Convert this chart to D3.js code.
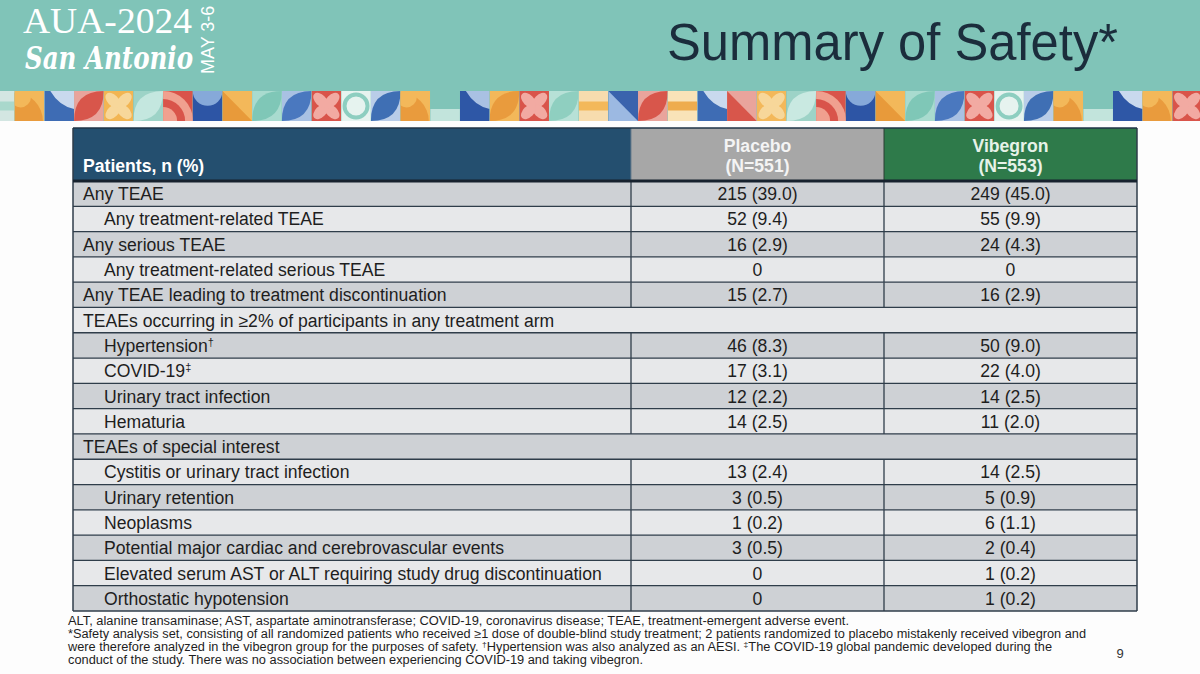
<!DOCTYPE html>
<html><head><meta charset="utf-8">
<script src="https://cdn.jsdelivr.net/npm/d3@7"></script>
<style>html,body{margin:0;padding:0;background:#fff;} svg{display:block;}</style>
</head><body><svg id="c" width="1200" height="674"></svg>
<script>
// ---------------- DATA ----------------
const categories = [
  "Any TEAE",
  "Any treatment-related TEAE",
  "Any serious TEAE",
  "Any treatment-related serious TEAE",
  "Any TEAE leading to treatment discontinuation",
  "TEAEs occurring in \u22652% of participants in any treatment arm",
  "Hypertension",
  "COVID-19",
  "Urinary tract infection",
  "Hematuria",
  "TEAEs of special interest",
  "Cystitis or urinary tract infection",
  "Urinary retention",
  "Neoplasms",
  "Potential major cardiac and cerebrovascular events",
  "Elevated serum AST or ALT requiring study drug discontinuation",
  "Orthostatic hypotension"
];
const labelMarks = ["", "", "", "", "", "", "\u2020", "\u2021", "", "", "", "", "", "", "", "", ""];
const indentLevels = [0, 1, 0, 1, 0, 0, 1, 1, 1, 1, 0, 1, 1, 1, 1, 1, 1];
const placeboValues = ["215 (39.0)", "52 (9.4)", "16 (2.9)", "0", "15 (2.7)", null, "46 (8.3)", "17 (3.1)", "12 (2.2)", "14 (2.5)", null, "13 (2.4)", "3 (0.5)", "1 (0.2)", "3 (0.5)", "0", "0"];
const vibegronValues = ["249 (45.0)", "55 (9.9)", "24 (4.3)", "0", "16 (2.9)", null, "50 (9.0)", "22 (4.0)", "14 (2.5)", "11 (2.0)", null, "14 (2.5)", "5 (0.9)", "6 (1.1)", "2 (0.4)", "1 (0.2)", "1 (0.2)"];
const columns = ["label", "placebo", "vibegron"];
const columnTitles = ["Patients, n (%)", "Placebo", "Vibegron"];
const columnCounts = ["", "(N=551)", "(N=553)"];
const title = "Summary of Safety*";
const footnotes = [
  [{t:"ALT, alanine transaminase; AST, aspartate aminotransferase; COVID-19, coronavirus disease; TEAE, treatment-emergent adverse event."}],
  [{t:"*Safety analysis set, consisting of all randomized patients who received \u22651 dose of double-blind study treatment; 2 patients randomized to placebo mistakenly received vibegron and"}],
  [{t:"were therefore analyzed in the vibegron group for the purposes of safety. "},{t:"\u2020",s:1},{t:"Hypertension was also analyzed as an AESI. "},{t:"\u2021",s:1},{t:"The COVID-19 global pandemic developed during the"}],
  [{t:"conduct of the study. There was no association between experiencing COVID-19 and taking vibegron."}]
];
const footnoteWidths = [781, 1018, 984, 575];
const pageNumber = "9";
// decorative tile strip (shape, background, foreground)
const tiles = [
  ["stripes","#d3e6e2","#a9d8cc"],["quarter","#f3b85a","#e99b3d"],["wave","#c9d9ee","#3e6cb4"],["leaf","#e9a49c","#d8564b"],
  ["petal","#f2b552","#f7d79a"],["leaf","#9dd3c7","#c4e7df"],["arcs","#d9544a","#f0a08f"],["semi","#86a9d9","#2d55a5"],
  ["tri","#f3b85a","#e89a3a"],["leaf","#a9dbcf","#7fc7b7"],["leaf","#a9c1e3","#4a78bf"],["petal","#d9544a","#f2aaa2"],
  ["ring","#e6f3ef","#8dcec0"],["leaf","#b9cde8","#3f6fb4"],["quarter","#f3b85a","#e99b3d"],["gap","#80c4b8","#c2e4dc"],
  ["wave","#a9c1e3","#2e57a6"],["leaf","#f3b85a","#e99b3d"],["petal","#d9544a","#f2aaa2"],["leaf","#b7e1d7","#8fcfc0"],
  ["stripes","#f7dcae","#f3b85a"],["tri","#3a63ad","#9cb9e2"],["leaf","#e9a49c","#d8564b"],["stripes","#f9e3b8","#eeac4e"],
  ["wave","#c9d9ee","#3e6cb4"],["tri","#e9a49c","#d8564b"],["petal","#f3b85a","#f7d79a"],["leaf","#9dd3c7","#c9e9e1"],
  ["arcs","#d9544a","#f0a08f"],["semi","#86a9d9","#2d55a5"],["tri","#f3b85a","#e89a3a"],["leaf","#a9dbcf","#7fc7b7"],
  ["leaf","#a9c1e3","#4a78bf"],["petal","#d9544a","#f2aaa2"],["ring","#e6f3ef","#8dcec0"],["leaf","#b9cde8","#3f6fb4"],
  ["quarter","#f3b85a","#e99b3d"],["gap","#80c4b8","#c2e4dc"],["wave","#c9d9ee","#2e57a6"],["quarter","#f3b85a","#e99b3d"],
  ["petal","#d9544a","#f2aaa2"]
];

// ---------------- DRAW ----------------
const W = 1200, H = 674;
const svg = d3.select("#c");
const defs = svg.append("defs");
const FONT = "'Liberation Sans', Arial, Helvetica, sans-serif";
const FS = 17.6;

svg.append("rect").attr("width", W).attr("height", H).attr("fill", "#fdfdfd");
svg.append("rect").attr("width", W).attr("height", 121).attr("fill", "#80c4b8");

// tile strip
const bandTop = 91, bandH = 30;
const tx = d3.scaleBand().domain(d3.range(tiles.length)).range([-15, W + 2]);
const tw = tx.bandwidth();
const band = svg.append("g");
tiles.forEach((t, i) => {
  const x = tx(i), y = bandTop, w = tw, h = bandH;
  const id = "tc" + i;
  defs.append("clipPath").attr("id", id).append("rect").attr("x", x).attr("y", y).attr("width", w).attr("height", h);
  const g = band.append("g").attr("clip-path", `url(#${id})`);
  const [shape, bg, fg] = t;
  if (shape === "gap") {
    g.append("rect").attr("x", x).attr("y", y).attr("width", w).attr("height", h).attr("fill", bg);
    g.append("rect").attr("x", x).attr("y", y + h * 0.6).attr("width", w).attr("height", h * 0.4).attr("fill", fg);
    return;
  }
  g.append("rect").attr("x", x).attr("y", y).attr("width", w).attr("height", h).attr("fill", bg);
  if (shape === "quarter") {
    g.append("circle").attr("cx", x).attr("cy", y + h).attr("r", w * 0.95).attr("fill", fg);
    g.append("circle").attr("cx", x + w * 0.2).attr("cy", y + h * 0.2).attr("r", w * 0.35).attr("fill", bg);
  } else if (shape === "leaf") {
    g.append("path").attr("d", `M${x},${y+h} Q${x},${y} ${x+w},${y} Q${x+w},${y+h} ${x},${y+h} Z`).attr("fill", fg);
  } else if (shape === "tri") {
    g.append("path").attr("d", `M${x},${y} L${x+w},${y+h} L${x},${y+h} Z`).attr("fill", fg);
  } else if (shape === "petal") {
    const cx = x + w / 2, cy = y + h / 2;
    [45, 135, 225, 315].forEach(a => {
      g.append("ellipse").attr("cx", cx).attr("cy", cy - 8).attr("rx", 5.5).attr("ry", 9)
        .attr("transform", `rotate(${a},${cx},${cy})`).attr("fill", fg);
    });
  } else if (shape === "ring") {
    g.append("circle").attr("cx", x + w / 2).attr("cy", y + h / 2).attr("r", 11.5).attr("fill", "none").attr("stroke", fg).attr("stroke-width", 4);
  } else if (shape === "semi") {
    g.append("rect").attr("x", x).attr("y", y).attr("width", w).attr("height", h).attr("fill", fg);
    g.append("circle").attr("cx", x + w / 2).attr("cy", y).attr("r", w * 0.5).attr("fill", bg);
  } else if (shape === "arcs") {
    [30, 22, 14].forEach((r, k) => g.append("circle").attr("cx", x).attr("cy", y + h).attr("r", r).attr("fill", k % 2 ? bg : fg));
  } else if (shape === "stripes") {
    g.append("rect").attr("x", x).attr("y", y + h * 0.35).attr("width", w).attr("height", h * 0.3).attr("fill", fg);
  } else if (shape === "wave") {
    g.append("path").attr("d", `M${x+w*0.2},${y} Q${x+w*0.5},${y+h*0.5} ${x+w},${y+h*0.6} L${x+w},${y+h} L${x},${y+h} L${x},${y} Z`).attr("fill", fg);
  }
});

// logo
const logo = svg.append("g").attr("fill", "#ffffff");
logo.append("text").attr("x", 23).attr("y", 33).attr("font-family", "'Liberation Serif', 'DejaVu Serif', serif")
  .attr("font-size", 36).attr("textLength", 169).attr("lengthAdjust", "spacingAndGlyphs").text("AUA-2024");
logo.append("text").attr("x", 25).attr("y", 69).attr("font-family", "'DejaVu Serif', serif")
  .attr("font-style", "italic").attr("font-weight", "bold").attr("font-size", 32)
  .attr("textLength", 168).attr("lengthAdjust", "spacingAndGlyphs").text("San Antonio");
logo.append("text").attr("x", 214).attr("y", 74).attr("transform", "rotate(-90,214,74)").attr("font-family", FONT)
  .attr("font-size", 18).text("MAY 3-6");

// title
svg.append("text").attr("x", 667).attr("y", 60).attr("font-family", FONT).attr("font-size", 51)
  .attr("fill", "#1b2d3c").attr("textLength", 451).attr("lengthAdjust", "spacingAndGlyphs").text(title);

// table
const headTop = 128, headBottom = 181, tableBottom = 611;
const colX = d3.scaleOrdinal().domain(columns).range([73, 631, 884]);
const colW = d3.scaleOrdinal().domain(columns).range([558, 253, 253]);
const tableLeft = colX("label"), tableRight = colX("vibegron") + colW("vibegron");
const y = d3.scaleBand().domain(categories).range([headBottom, tableBottom]);
const rh = y.bandwidth();

const headFill = d3.scaleOrdinal().domain(columns).range(["#244f6f", "#a7a7a7", "#2e7a4a"]);
const head = svg.append("g");
head.selectAll("rect").data(columns).join("rect")
  .attr("x", d => colX(d)).attr("y", headTop).attr("width", d => colW(d)).attr("height", headBottom - headTop)
  .attr("fill", d => headFill(d));
head.append("text").attr("x", tableLeft + 10).attr("y", 172).attr("font-family", FONT).attr("font-weight", "bold")
  .attr("font-size", FS).attr("fill", "#ffffff").text(columnTitles[0]);
columns.slice(1).forEach((c, i) => {
  const cx = colX(c) + colW(c) / 2;
  head.append("text").attr("x", cx).attr("y", 151.5).attr("text-anchor", "middle").attr("font-family", FONT)
    .attr("font-weight", "bold").attr("font-size", FS).attr("fill", i === 0 ? "#f4f4f4" : "#e6f2e8").text(columnTitles[i + 1]);
  head.append("text").attr("x", cx).attr("y", 171.5).attr("text-anchor", "middle").attr("font-family", FONT)
    .attr("font-weight", "bold").attr("font-size", FS).attr("fill", i === 0 ? "#f4f4f4" : "#e6f2e8").text(columnCounts[i + 1]);
});
head.append("line").attr("x1", 631).attr("x2", 631).attr("y1", headTop).attr("y2", headBottom).attr("stroke", "#6b7f8e").attr("stroke-width", 1);
head.append("line").attr("x1", 884).attr("x2", 884).attr("y1", headTop).attr("y2", headBottom).attr("stroke", "#2a3d33").attr("stroke-width", 1);

const rows = categories.map((c, i) => ({c, i, lvl: indentLevels[i], mark: labelMarks[i], p: placeboValues[i], v: vibegronValues[i]}));
const body = svg.append("g");
const rowG = body.selectAll("g.row").data(rows).join("g").attr("class", "row");
rowG.append("rect").attr("x", tableLeft).attr("y", d => y(d.c)).attr("width", tableRight - tableLeft).attr("height", rh)
  .attr("fill", d => d.i % 2 === 0 ? "#ced1d5" : "#e7e8ea");
const baseOff = rh / 2 + 6.5;
const lab = rowG.append("text").attr("x", d => tableLeft + 10 + d.lvl * 21).attr("y", d => y(d.c) + baseOff)
  .attr("font-family", FONT).attr("font-size", FS).attr("fill", "#1e1e1e");
lab.append("tspan").text(d => d.c);
lab.append("tspan").attr("font-size", 11).attr("dy", -6).text(d => d.mark);
rowG.filter(d => d.p !== null).append("text").attr("x", colX("placebo") + colW("placebo") / 2).attr("y", d => y(d.c) + baseOff)
  .attr("text-anchor", "middle").attr("font-family", FONT).attr("font-size", FS).attr("fill", "#1e1e1e").text(d => d.p);
rowG.filter(d => d.v !== null).append("text").attr("x", colX("vibegron") + colW("vibegron") / 2).attr("y", d => y(d.c) + baseOff)
  .attr("text-anchor", "middle").attr("font-family", FONT).attr("font-size", FS).attr("fill", "#1e1e1e").text(d => d.v);
// grid lines
rowG.append("line").attr("x1", tableLeft).attr("x2", tableRight).attr("y1", d => y(d.c)).attr("y2", d => y(d.c))
  .attr("stroke", "#2f3d4a").attr("stroke-width", 1.3);
["placebo", "vibegron"].forEach(c => {
  rowG.filter(d => d.p !== null).append("line").attr("x1", colX(c)).attr("x2", colX(c))
    .attr("y1", d => y(d.c)).attr("y2", d => y(d.c) + rh).attr("stroke", "#2f3d4a").attr("stroke-width", 1.3);
});
body.append("line").attr("x1", tableLeft).attr("x2", tableRight).attr("y1", tableBottom).attr("y2", tableBottom).attr("stroke", "#2f3d4a").attr("stroke-width", 1.5);
body.append("line").attr("x1", tableLeft).attr("x2", tableLeft).attr("y1", headTop).attr("y2", tableBottom).attr("stroke", "#2f3d4a").attr("stroke-width", 1.5);
body.append("line").attr("x1", tableRight).attr("x2", tableRight).attr("y1", headTop).attr("y2", tableBottom).attr("stroke", "#2f3d4a").attr("stroke-width", 1.5);
body.append("line").attr("x1", tableLeft).attr("x2", tableRight).attr("y1", headTop).attr("y2", headTop).attr("stroke", "#1f3346").attr("stroke-width", 1.5);
body.append("line").attr("x1", tableLeft).attr("x2", tableRight).attr("y1", headBottom).attr("y2", headBottom).attr("stroke", "#17222e").attr("stroke-width", 3);

// footnotes
const fy = d3.scaleBand().domain(d3.range(footnotes.length)).range([614.5, 666.5]);
footnotes.forEach((parts, i) => {
  const t = svg.append("text").attr("x", 68).attr("y", fy(i) + 10.5).attr("font-family", "'Liberation Sans Narrow', " + FONT)
    .attr("font-size", 12).attr("fill", "#1e1e1e").attr("textLength", footnoteWidths[i]).attr("lengthAdjust", "spacingAndGlyphs");
  parts.forEach(p => t.append("tspan").attr("font-size", p.s ? 8 : 12).attr("baseline-shift", p.s ? "super" : null).text(p.t));
});
svg.append("text").attr("x", 1120).attr("y", 658).attr("text-anchor", "middle").attr("font-family", FONT)
  .attr("font-size", 13).attr("fill", "#333").text(pageNumber);
</script>
</body></html>
